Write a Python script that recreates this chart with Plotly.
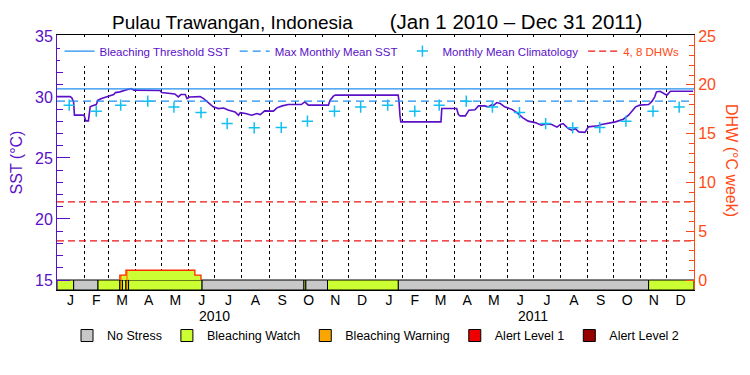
import pandas as pd
import plotly.graph_objects as go

# ---------------- data ----------------
START = "2010-01-01"
END = "2012-01-01"

# daily SST (read at breakpoints), day offset from 2010-01-01
sst_day = [0, 15, 17, 19, 20, 31, 33, 36, 38, 40, 45, 47, 51, 55, 59, 65, 67, 72, 78, 82,
           85, 88, 118, 120, 135, 139, 142, 147, 149, 152, 164, 168, 174, 179, 185, 191,
           196, 204, 208, 210, 216, 223, 229, 233, 238, 244, 248, 252, 258, 265, 280, 284,
           288, 311, 313, 317, 319, 391, 392, 393, 394, 440, 441, 458, 460, 462, 468, 472,
           479, 483, 490, 494, 498, 500, 504, 508, 513, 521, 527, 534, 540, 548, 555, 561,
           567, 573, 577, 580, 586, 590, 594, 598, 605, 609, 620, 624, 632, 640, 649, 655,
           663, 668, 678, 682, 685, 687, 691, 695, 699, 703, 729]
sst_val = [30.03, 30.03, 29.93, 29.60, 28.51, 28.51, 28.04, 28.04, 29.19, 29.27, 29.38, 29.74,
           29.87, 29.98, 30.09, 30.20, 30.36, 30.42, 30.56, 30.64, 30.69, 30.56, 30.53, 30.36,
           30.25, 30.01, 30.20, 30.20, 29.87, 30.00, 30.03, 29.87, 29.54, 29.19, 29.05, 29.10,
           28.94, 28.78, 28.51, 28.72, 28.64, 28.50, 28.64, 28.56, 28.86, 28.86, 28.84, 29.11,
           29.27, 29.38, 29.38, 29.60, 29.33, 29.33, 29.74, 30.09, 30.15, 30.15, 29.60, 28.51,
           27.96, 27.96, 29.05, 29.05, 28.56, 28.45, 28.45, 28.92, 28.95, 29.27, 29.27, 29.19,
           29.35, 29.30, 29.54, 29.46, 29.19, 29.00, 28.72, 28.29, 28.02, 27.90, 27.69, 27.80,
           27.75, 27.53, 27.75, 27.82, 27.41, 27.28, 27.40, 27.14, 27.10, 27.55, 27.64, 27.74,
           27.82, 27.96, 28.18, 28.51, 29.19, 29.33, 29.38, 29.66, 30.01, 30.42, 30.47, 30.28,
           30.15, 30.47, 30.47]

# monthly mean climatology (Jan..Dec)
clim_val = [29.33, 28.84, 29.33, 29.66, 29.17, 28.72, 27.82, 27.47, 27.50, 28.02, 28.84, 29.17]

dhw_levels = [4, 8]

# DHW step function: value from that date on
dhw_step_dates = ["2010-03-14", "2010-03-21", "2010-06-08", "2010-06-15"]
dhw_step_vals = [0.5, 1.0, 0.5, 0.0]

# stress level segments: start date and level (each lasts until the next start)
stress_start = ["2010-01-01", "2010-01-20", "2010-02-17", "2010-03-14", "2010-03-17",
                "2010-03-21", "2010-03-24", "2010-06-16", "2010-10-11", "2010-10-13",
                "2010-11-07", "2011-01-27", "2011-11-10"]
stress_level = ["Bleaching Watch", "No Stress", "Bleaching Watch", "Bleaching Warning",
                "Bleaching Watch", "Bleaching Warning", "Bleaching Watch", "No Stress",
                "Bleaching Watch", "No Stress", "Bleaching Watch", "No Stress",
                "Bleaching Watch"]

levels = ["No Stress", "Bleaching Watch", "Bleaching Warning", "Alert Level 1", "Alert Level 2"]
month_letters = {"Jan": "J", "Feb": "F", "Mar": "M", "Apr": "A", "May": "M", "Jun": "J",
                 "Jul": "J", "Aug": "A", "Sep": "S", "Oct": "O", "Nov": "N", "Dec": "D"}
year_labels = ["2010", "2011"]

# ---------------- styles ----------------
PURPLE = "#5a10c8"
BLUE = "#1f8ef1"
CYAN = "#12bff0"
ORANGE_RED = "#ff4a14"
RED = "#ee1414"
level_colors = {"No Stress": "#c8c8c8", "Bleaching Watch": "#ccff33",
                "Bleaching Warning": "#fba600", "Alert Level 1": "#ee0000",
                "Alert Level 2": "#960000"}
FONT = "Liberation Sans"
Y_RANGE = [14.18, 35.08]
Y2_RANGE = [(Y_RANGE[0] - 15) * 1.25, (Y_RANGE[1] - 15) * 1.25]

t0 = pd.Timestamp(START)
t_end = pd.Timestamp(END)
sst_x = t0 + pd.to_timedelta(sst_day, unit="D")
clim_x = pd.date_range(START, periods=24, freq="MS") + pd.Timedelta(days=14)
clim_y = clim_val * 2
mmm = max(clim_val)
threshold = mmm + 1

seg_s = [pd.Timestamp(s) for s in stress_start]
seg_e = seg_s[1:] + [t_end]

dhw_s = [pd.Timestamp(d) for d in dhw_step_dates]
dhw_e = dhw_s[1:] + [t_end]

fig = go.Figure()

# stress bar (one trace per level, shown in bottom legend)
for lev in levels:
    xs, ws = [], []
    for s, e, l in zip(seg_s, seg_e, stress_level):
        if l == lev:
            xs.append(s + (e - s) / 2)
            ws.append((e - s).total_seconds() * 1000)
    fig.add_trace(go.Bar(
        x=xs if xs else [None], y=[-Y2_RANGE[0]] * max(len(xs), 1), base=Y2_RANGE[0],
        width=ws if ws else None, yaxis="y2", name=lev, legend="legend2",
        marker=dict(color=level_colors[lev], line=dict(color="black", width=1)),
        hoverinfo="skip"))

# DHW fill coloured by stress level
for s, e, l in zip(seg_s, seg_e, stress_level):
    for ds, de, v in zip(dhw_s, dhw_e, dhw_step_vals):
        if v <= 0:
            continue
        a, b = max(s, ds), min(e, de)
        if a < b:
            fig.add_trace(go.Bar(
                x=[a + (b - a) / 2], y=[v], base=0, width=[(b - a).total_seconds() * 1000],
                yaxis="y2", showlegend=False,
                marker=dict(color=level_colors[l], line=dict(width=0)), hoverinfo="skip"))

# DHW outline
fig.add_trace(go.Scatter(
    x=[dhw_s[0]] + dhw_s, y=[0] + dhw_step_vals, yaxis="y2", mode="lines",
    line=dict(color="#ff2a00", width=1.3, shape="hv"), showlegend=False))

# SST
fig.add_trace(go.Scatter(x=sst_x, y=sst_val, mode="lines", line=dict(color=PURPLE, width=1.6),
                         showlegend=False))

fig.add_trace(go.Scatter(x=[t0, t_end], y=[threshold, threshold], mode="lines",
                         line=dict(color=BLUE, width=1.2), name="Bleaching Threshold SST"))
fig.add_trace(go.Scatter(x=[t0, t_end], y=[mmm, mmm], mode="lines",
                         line=dict(color=BLUE, width=1.2, dash="8px,5px"),
                         name="Max Monthly Mean SST"))
fig.add_trace(go.Scatter(x=clim_x, y=clim_y, mode="markers",
                         marker=dict(symbol="cross-thin", size=8, color=CYAN,
                                     line=dict(color=CYAN, width=1.5)),
                         name="Monthly Mean Climatology"))
dx, dy = [], []
for lv in dhw_levels:
    dx += [t0, t_end, None]
    dy += [lv, lv, None]
fig.add_trace(go.Scatter(x=dx, y=dy, yaxis="y2", mode="lines",
                         line=dict(color=RED, width=1.2, dash="7px,4px"),
                         name="<span style='color:%s'>4, 8 DHWs</span>" % ORANGE_RED))

annotations = [
    dict(text=yr, x=pd.Timestamp(yr + "-07-01"), xref="x", y=0, yref="paper", yanchor="middle",
         yshift=-26, showarrow=False, font=dict(size=14, color="black", family=FONT))
    for yr in year_labels
]
annotations.append(dict(text="DHW (°C week)", textangle=90, x=1.058, xref="paper",
                        xanchor="center", y=0.506, yref="paper", yanchor="middle",
                        showarrow=False, font=dict(size=16, color=ORANGE_RED, family=FONT)))

NB = "\u00a0"
fig.update_layout(
    width=750, height=375,
    margin=dict(l=57, r=56, t=35, b=85),
    paper_bgcolor="white", plot_bgcolor="white",
    barmode="overlay",
    font=dict(family=FONT, size=14, color="black"),
    title=dict(text="Pulau Trawangan, Indonesia" + NB * 7
               + "<span style='font-size:20.5px'>(Jan 1 2010 \u2013 Dec 31 2011)</span>",
               x=112 / 750, xanchor="left", xref="container",
               y=1 - 22 / 375, yanchor="middle", yref="container",
               font=dict(size=19, color="black", family=FONT)),
    xaxis=dict(type="date", range=[t0, t_end], showline=True, linecolor="black", linewidth=1,
               mirror=True, dtick="M1", tick0=START, ticklabelmode="period", tickformat="%b",
               labelalias=month_letters, showgrid=True, gridcolor="black", griddash="dot",
               gridwidth=1, ticks="", tickfont=dict(size=14, color="black"), zeroline=False,
               ticklabelstandoff=-3),
    yaxis=dict(range=Y_RANGE, tick0=15, dtick=5, ticks="inside", ticklen=13, tickcolor=PURPLE,
               tickwidth=1, showline=True, linecolor=PURPLE, linewidth=1,
               tickfont=dict(color=PURPLE, size=16), showgrid=False, zeroline=False,
               minor=dict(dtick=1, ticks="inside", ticklen=6, tickcolor=PURPLE, showgrid=False),
               title=dict(text="SST (°C)", font=dict(color=PURPLE, size=16), standoff=8)),
    yaxis2=dict(range=Y2_RANGE, overlaying="y", side="right", tick0=0, dtick=5, ticks="inside",
                ticklen=8, tickcolor=ORANGE_RED, showline=True, linecolor=ORANGE_RED,
                linewidth=1, tickfont=dict(color=ORANGE_RED, size=16), showgrid=False,
                zeroline=False,
                minor=dict(dtick=1, ticks="inside", ticklen=5, tickcolor=ORANGE_RED,
                           showgrid=False)),
    legend=dict(orientation="h", x=(372 - 57) / 637, xanchor="center",
                y=0.937, yanchor="middle", bgcolor="white",
                font=dict(size=11.5, color=PURPLE, family=FONT),
                itemclick=False, itemwidth=30),
    legend2=dict(orientation="h", x=0.5, xanchor="center", y=-0.18, yanchor="middle",
                 bgcolor="rgba(0,0,0,0)", font=dict(size=12.5, color="black", family=FONT),
                 itemwidth=30),
    annotations=annotations,
    showlegend=True,
)

fig.write_html("out.html", post_script="document.body.style.margin='0px';",
               config={"displayModeBar": False})
